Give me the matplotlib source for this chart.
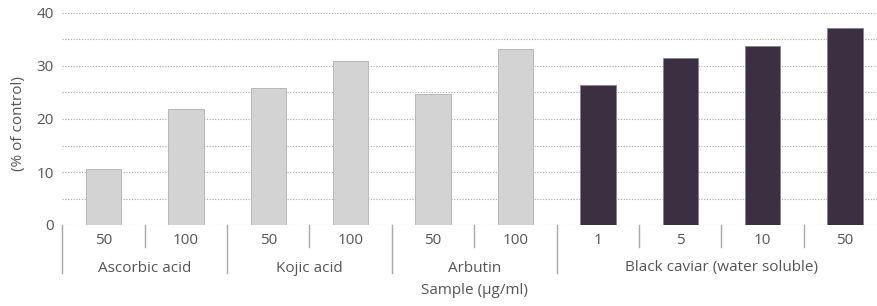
import matplotlib
matplotlib.use("Agg")
import matplotlib.pyplot as plt
from matplotlib.transforms import blended_transform_factory

plt.rcParams['font.family'] = ['Open Sans', 'DejaVu Sans']

groups = ["Ascorbic acid", "Kojic acid", "Arbutin", "Black caviar (water soluble)"]
doses = [["50", "100"], ["50", "100"], ["50", "100"], ["1", "5", "10", "50"]]
values = [[10.5, 21.9], [25.8, 30.9], [24.7, 33.2], [26.5, 31.6, 33.7, 37.2]]
group_colors = ["#d3d3d3", "#d3d3d3", "#d3d3d3", "#3b2f41"]
ylabel = "(% of control)"
xlabel = "Sample (μg/ml)"
yticks = [0, 10, 20, 30, 40]

W, H = 878, 306
fig = plt.figure(figsize=(W / 100, H / 100), dpi=100)
AX_L, AX_W, AX_H = 62.3, 824.0, 212.0
ax = fig.add_axes([AX_L / W, (H - 225) / H, AX_W / W, AX_H / H])

text_color = "#555555"
xs, vals, cols, labels = [], [], [], []
group_bounds = []
i = 0
for g, ds, vs, c in zip(groups, doses, values, group_colors):
    start = i
    for d, v in zip(ds, vs):
        xs.append(i); vals.append(v); cols.append(c); labels.append(d)
        i += 1
    group_bounds.append((start, i - 1))

edge = ["#b0b0b0" if c == "#d3d3d3" else "#8a8290" for c in cols]
ax.bar(xs, vals, width=0.43, color=cols, edgecolor=edge, linewidth=0.6, zorder=3)

ax.set_xlim(-0.5, len(xs) - 0.5)
ax.set_ylim(0, 40)
ax.set_yticks(yticks)
ax.set_yticks(range(0, 41, 5), minor=True)
ax.grid(axis='y', which='both', linestyle=(0, (1, 1.5)), color="#a5a5a5", linewidth=0.8, zorder=0)
ax.tick_params(axis='y', which='both', length=0, labelsize=11, labelcolor=text_color, pad=6)
ax.tick_params(axis='x', length=0, labelbottom=False)
for s in ax.spines.values():
    s.set_visible(False)
ax.set_ylabel(ylabel, fontsize=11, color=text_color)
ax.yaxis.set_label_coords((26 - AX_L) / AX_W, 0.48)

tr = blended_transform_factory(ax.transData, ax.transAxes)
short = -22 / AX_H
long_ = -48 / AX_H
line_color = "#a8a8a8"
boundaries_long = set([-0.5] + [b[1] + 0.5 for b in group_bounds[:-1]])
for k in range(len(xs)):
    xb = k - 0.5
    y1 = long_ if xb in boundaries_long else short
    ax.plot([xb, xb], [0, y1], transform=tr, color=line_color, linewidth=1.0, clip_on=False)

for x, lab in zip(xs, labels):
    ax.text(x, -15.5 / AX_H, lab, transform=tr, ha='center', va='center', fontsize=11, color=text_color)
for g, (a, b) in zip(groups, group_bounds):
    ax.text((a + b) / 2, -43 / AX_H, g, transform=tr, ha='center', va='center', fontsize=11, color=text_color)
ax.text(0.5, -65.5 / AX_H, xlabel, transform=ax.transAxes, ha='center', va='center',
        fontsize=11, color=text_color)

fig.savefig("out.png", dpi=100)
